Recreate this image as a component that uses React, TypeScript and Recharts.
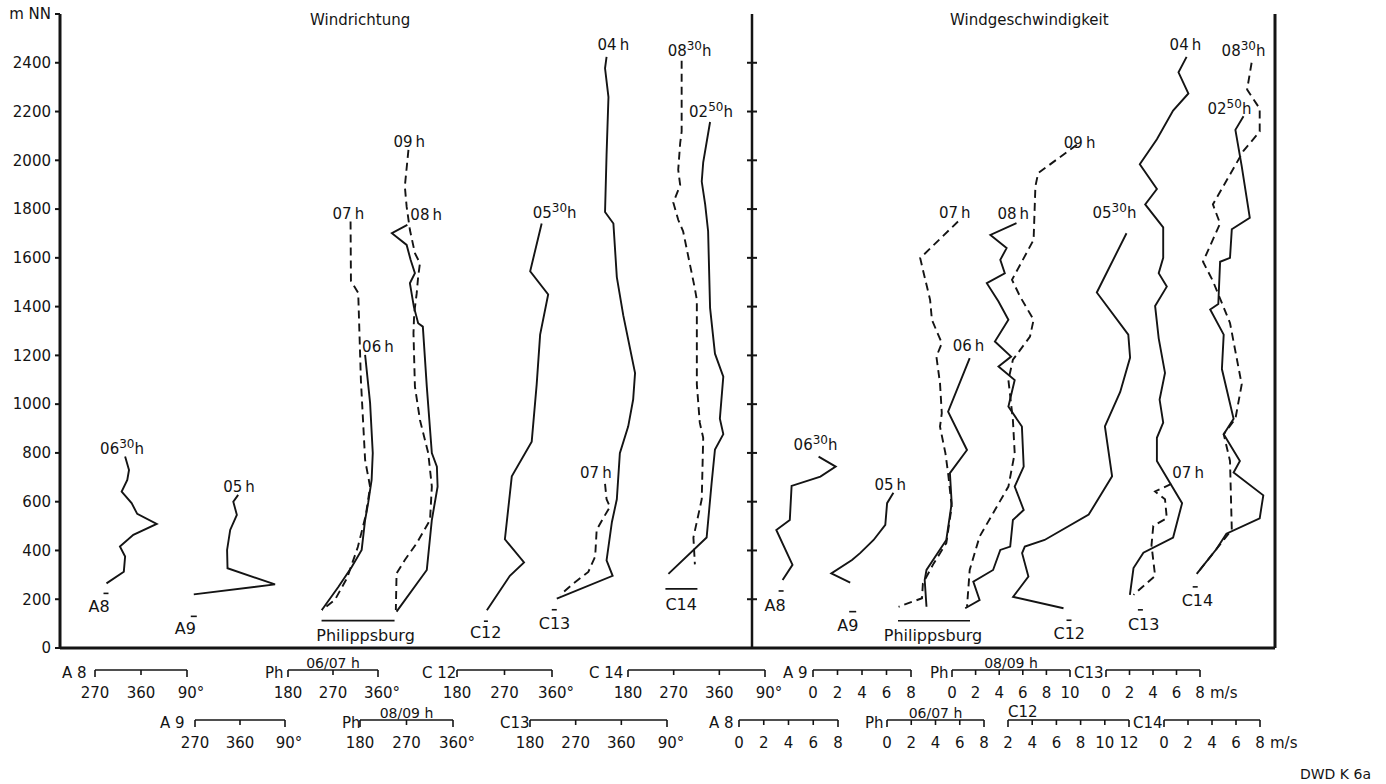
import React from 'react';
import { LineChart, Line, XAxis, YAxis, ReferenceLine } from 'recharts';

// heights in m NN, every profile runs from its top point down to the ground
const ALT_MAX = 2600;
const ALT_TICKS = [0, 200, 400, 600, 800, 1000, 1200, 1400, 1600, 1800, 2000, 2200, 2400, 2600];

type Pt = [number, number]; // [value, height]

// --- Windrichtung (degrees, 360+ means past north) ---
const DIR_A8_0630: Pt[] = [[328, 785], [337, 730], [333, 689], [320, 641], [343, 594], [356, 550], [401, 509], [347, 464], [316, 416], [328, 375], [325, 313], [285, 265]];
const DIR_A9_05: Pt[] = [[356, 628], [345, 600], [353, 546], [338, 484], [331, 402], [332, 327], [439, 261], [256, 220]];
const DIR_PH_07: Pt[] = [[312, 1749], [313, 1506], [332, 1456], [339, 1099], [350, 771], [363, 661], [352, 546], [331, 414], [303, 287], [271, 197], [237, 156]];
const DIR_PH_06: Pt[] = [[350, 1202], [363, 1005], [370, 800], [367, 689], [358, 595], [350, 525], [341, 402], [315, 332], [280, 250], [237, 156]];
const DIR_PH_09: Pt[] = [[259, 2043], [249, 1893], [254, 1810], [263, 1715], [277, 1619], [291, 1578], [286, 1523], [282, 1455], [275, 1373], [273, 1291], [277, 1072], [291, 935], [314, 799], [324, 662], [319, 525], [282, 430], [249, 361], [226, 306], [224, 156]];
const DIR_PH_08: Pt[] = [[256, 1735], [213, 1701], [254, 1653], [265, 1592], [277, 1537], [263, 1496], [274, 1400], [286, 1332], [299, 1318], [310, 1072], [324, 799], [338, 744], [340, 662], [324, 525], [310, 320], [226, 149]];
const DIR_C12_0530: Pt[] = [[341, 1741], [311, 1545], [358, 1450], [337, 1285], [328, 1081], [315, 846], [263, 704], [245, 446], [295, 351], [258, 296], [198, 155]];
const DIR_C13_04: Pt[] = [[342, 2424], [338, 2377], [347, 2259], [342, 2023], [338, 1788], [360, 1741], [369, 1521], [386, 1364], [417, 1128], [412, 1019], [399, 909], [377, 799], [369, 610], [356, 516], [342, 359], [358, 296], [211, 202]];
const DIR_C13_07: Pt[] = [[338, 673], [342, 610], [351, 579], [333, 532], [316, 485], [312, 375], [294, 312], [255, 265], [220, 218]];
const DIR_C14_0830: Pt[] = [[265, 2408], [265, 2118], [262, 2071], [258, 1961], [262, 1898], [248, 1827], [258, 1756], [268, 1709], [292, 1474], [296, 1427], [296, 1081], [302, 924], [309, 862], [306, 610], [289, 453], [292, 343]];
const DIR_C14_0250: Pt[] = [[323, 2157], [309, 1992], [306, 1913], [313, 1819], [319, 1709], [323, 1395], [333, 1207], [350, 1113], [343, 940], [350, 877], [333, 814], [326, 673], [316, 453], [238, 304]];

// --- Windgeschwindigkeit (m/s) ---
const SPD_A8_0630: Pt[] = [[5.4, 785], [7.3, 744], [5.6, 703], [2.4, 665], [2.2, 525], [0.7, 484], [2.5, 341], [1.4, 279]];
const SPD_A9_05: Pt[] = [[7.6, 637], [6.9, 594], [6.7, 505], [5.4, 443], [3.9, 389], [3.0, 361], [0.7, 306], [2.8, 268]];
const SPD_PH_07: Pt[] = [[7.0, 1749], [2.8, 1599], [3.1, 1551], [3.9, 1428], [4.1, 1346], [5.2, 1250], [4.6, 1195], [5.0, 1086], [5.2, 963], [5.0, 908], [5.6, 799], [5.9, 717], [6.3, 580], [5.7, 430], [4.3, 347], [3.1, 265], [3.0, 204], [0.4, 169]];
const SPD_PH_06: Pt[] = [[8.3, 1189], [5.9, 969], [8.0, 812], [6.1, 717], [6.3, 594], [5.7, 443], [3.5, 320], [3.3, 279], [3.5, 169]];
const SPD_PH_08: Pt[] = [[6.5, 1742], [3.6, 1694], [5.4, 1640], [4.7, 1592], [5.2, 1537], [3.2, 1496], [4.5, 1421], [5.6, 1346], [4.1, 1257], [5.9, 1195], [4.5, 1154], [6.3, 1099], [5.6, 990], [7.1, 908], [7.3, 744], [6.3, 662], [7.3, 566], [6.1, 525], [5.8, 416], [4.7, 402], [3.9, 320], [1.7, 272], [2.4, 197], [0.8, 163]];
const SPD_PH_09: Pt[] = [[13.2, 2064], [8.9, 1947], [8.6, 1893], [8.4, 1674], [7.6, 1619], [6.0, 1510], [6.9, 1441], [8.4, 1346], [8.0, 1277], [6.1, 1182], [5.6, 1099], [6.1, 935], [6.3, 799], [5.6, 662], [3.9, 553], [2.4, 457], [1.3, 320], [1.0, 169]];
const SPD_C12_0530: Pt[] = [[13.5, 1701], [10.2, 1458], [13.7, 1285], [13.9, 1191], [12.8, 1050], [11.1, 909], [11.9, 704], [9.3, 547], [4.4, 443], [2.2, 416], [1.9, 389], [2.6, 293], [0.9, 210], [6.5, 163]];
const SPD_C13_04: Pt[] = [[7.4, 2424], [6.5, 2361], [7.6, 2274], [5.9, 2204], [4.1, 2086], [2.2, 1984], [4.1, 1882], [2.8, 1819], [4.8, 1725], [4.8, 1600], [4.3, 1537], [5.2, 1482], [3.9, 1403], [4.3, 1270], [5.0, 1128], [4.4, 1019], [4.8, 924], [4.1, 862], [4.1, 767], [6.9, 594], [5.9, 453], [2.6, 391], [1.5, 328], [1.1, 218]];
const SPD_C13_07: Pt[] = [[5.7, 673], [3.9, 642], [5.0, 610], [5.2, 532], [3.7, 501], [3.5, 422], [3.9, 296], [1.5, 218]];
const SPD_C14_0830: Pt[] = [[7.4, 2400], [6.9, 2290], [8.3, 2212], [8.3, 2118], [6.5, 2039], [3.1, 1819], [3.9, 1741], [2.0, 1584], [3.1, 1505], [5.0, 1333], [6.3, 1081], [5.6, 940], [4.3, 877], [5.0, 767], [5.2, 485], [1.3, 304]];
const SPD_C14_0250: Pt[] = [[6.5, 2181], [5.6, 2125], [6.3, 1976], [7.2, 1764], [5.2, 1717], [5.0, 1600], [3.9, 1584], [3.7, 1411], [2.8, 1388], [4.3, 1285], [4.1, 1144], [5.4, 940], [4.3, 877], [6.1, 767], [5.4, 720], [8.7, 626], [8.3, 532], [4.6, 469], [3.5, 406], [1.3, 304]];

// scale bar tick labels under the chart
const DIR_TICKS_A = ['270', '360', '90°'];
const DIR_TICKS_PH = ['180', '270', '360°'];
const DIR_TICKS_C3 = ['180', '270', '360°'];
const DIR_TICKS_C4 = ['180', '270', '360', '90°'];
const SPD_TICKS_8 = ['0', '2', '4', '6', '8'];
const SPD_TICKS_10 = ['0', '2', '4', '6', '8', '10'];
const SPD_TICKS_12 = ['2', '4', '6', '8', '10', '12'];

// ---------- layout ----------
const W = 1386;
const H = 784;
const PLOT = { left: 60, right: 1275, top: 14, bottom: 648 };
const DIVIDER_X = 752;
const FONT = '"DejaVu Sans", "Liberation Sans", sans-serif';
const INK = '#141414';

// every profile gets its own horizontal scale: value `at` sits at pixel `px`, k px per unit
const AXES: Record<string, { at: number; px: number; k: number }> = {
  dA8: { at: 270, px: 100, k: 0.433 },
  dA9: { at: 270, px: 200, k: 0.444 },
  dPh67: { at: 180, px: 300, k: 0.383 },
  dPh89: { at: 180, px: 380, k: 0.36 },
  dC12: { at: 180, px: 480, k: 0.383 },
  dC13: { at: 180, px: 545, k: 0.38 },
  dC14: { at: 180, px: 640, k: 0.49 },
  sA8: { at: 0, px: 770, k: 9 },
  sA9: { at: 0, px: 825, k: 9 },
  sPh67: { at: 0, px: 895, k: 9 },
  sPh89: { at: 0, px: 958, k: 9 },
  sC12: { at: 0, px: 1005, k: 9 },
  sC13: { at: 0, px: 1120, k: 9 },
  sC14: { at: 0, px: 1185, k: 9 },
};
const domainOf = (a: { at: number; px: number; k: number }) => [
  a.at - (a.px - PLOT.left) / a.k,
  a.at + (PLOT.right - a.px) / a.k,
];

type Series = { id: string; axis: string; data: Pt[]; dashed?: boolean; hour: [string, string?]; station?: string };

const SERIES: Series[] = [
  { id: 'dA8', axis: 'dA8', data: DIR_A8_0630, hour: ['06', '30'], station: 'A8' },
  { id: 'dA9', axis: 'dA9', data: DIR_A9_05, hour: ['05'], station: 'A9' },
  { id: 'dPh07', axis: 'dPh67', data: DIR_PH_07, dashed: true, hour: ['07'] },
  { id: 'dPh06', axis: 'dPh67', data: DIR_PH_06, hour: ['06'] },
  { id: 'dPh09', axis: 'dPh89', data: DIR_PH_09, dashed: true, hour: ['09'] },
  { id: 'dPh08', axis: 'dPh89', data: DIR_PH_08, hour: ['08'], station: 'Philippsburg' },
  { id: 'dC12', axis: 'dC12', data: DIR_C12_0530, hour: ['05', '30'], station: 'C12' },
  { id: 'dC13a', axis: 'dC13', data: DIR_C13_04, hour: ['04'], station: 'C13' },
  { id: 'dC13b', axis: 'dC13', data: DIR_C13_07, dashed: true, hour: ['07'] },
  { id: 'dC14a', axis: 'dC14', data: DIR_C14_0830, dashed: true, hour: ['08', '30'] },
  { id: 'dC14b', axis: 'dC14', data: DIR_C14_0250, hour: ['02', '50'], station: 'C14' },
  { id: 'sA8', axis: 'sA8', data: SPD_A8_0630, hour: ['06', '30'], station: 'A8' },
  { id: 'sA9', axis: 'sA9', data: SPD_A9_05, hour: ['05'], station: 'A9' },
  { id: 'sPh07', axis: 'sPh67', data: SPD_PH_07, dashed: true, hour: ['07'] },
  { id: 'sPh06', axis: 'sPh67', data: SPD_PH_06, hour: ['06'] },
  { id: 'sPh08', axis: 'sPh89', data: SPD_PH_08, hour: ['08'] },
  { id: 'sPh09', axis: 'sPh89', data: SPD_PH_09, dashed: true, hour: ['09'], station: 'Philippsburg' },
  { id: 'sC12', axis: 'sC12', data: SPD_C12_0530, hour: ['05', '30'], station: 'C12' },
  { id: 'sC13a', axis: 'sC13', data: SPD_C13_04, hour: ['04'], station: 'C13' },
  { id: 'sC13b', axis: 'sC13', data: SPD_C13_07, dashed: true, hour: ['07'] },
  { id: 'sC14a', axis: 'sC14', data: SPD_C14_0830, dashed: true, hour: ['08', '30'] },
  { id: 'sC14b', axis: 'sC14', data: SPD_C14_0250, hour: ['02', '50'], station: 'C14' },
];

// label offsets: hour label from the top point, station label from the bottom point
// ob = overbar [x0, x1, dy] relative to the station text
type LabelPos = { hx: number; hy: number; sx?: number; sy?: number; mid?: boolean; ob?: [number, number, number] };
const LABEL_POS: Record<string, LabelPos> = {
  dA8: { hx: -25, hy: -3, sx: -18, sy: 29, ob: [15, 20, -19] },
  dA9: { hx: -15, hy: -3, sx: -19, sy: 40, ob: [16, 22, -18] },
  dPh07: { hx: -18, hy: -3 },
  dPh06: { hx: -3, hy: -3 },
  dPh09: { hx: -15, hy: -3 },
  dPh08: { hx: 3, hy: -5, sx: -31, sy: 29, mid: true, ob: [-44, 29, -20] },
  dC12: { hx: -9, hy: -5, sx: -17, sy: 28, ob: [14, 18, -17] },
  dC13a: { hx: -9, hy: -7, sx: -18, sy: 30, ob: [13, 18, -19] },
  dC13b: { hx: -25, hy: -6 },
  dC14a: { hx: -14, hy: -5 },
  dC14b: { hx: -21, hy: -5, sx: -3, sy: 36, ob: [0, 32, -21] },
  sA8: { hx: -25, hy: -7, sx: -18, sy: 31, ob: [14, 19, -20] },
  sA9: { hx: -19, hy: -3, sx: -13, sy: 48, ob: [12, 19, -19] },
  sPh07: { hx: -19, hy: -4 },
  sPh06: { hx: -17, hy: -7 },
  sPh08: { hx: -19, hy: -4 },
  sPh09: { hx: -13, hy: 3, sx: -34, sy: 34, mid: true, ob: [-35, 37, -20] },
  sC12: { hx: -34, hy: -15, sx: -10, sy: 31, ob: [13, 18, -19] },
  sC13a: { hx: -17, hy: -7, sx: -2, sy: 35, ob: [10, 15, -20] },
  sC13b: { hx: 1, hy: -6 },
  sC14a: { hx: -30, hy: -7 },
  sC14b: { hx: -36, hy: -2, sx: -15, sy: 32, ob: [11, 16, -19] },
};

// bottom scale bars
const ROW_Y = [670, 720];
type Bar = { name: string; ticks: string[]; row: number; nameX: number; x0: number; x1: number; caption?: string; unit?: string; nameAbove?: boolean };
const SCALE_BARS: Bar[] = [
  { name: 'A 8', ticks: DIR_TICKS_A, row: 0, nameX: 62, x0: 95, x1: 187 },
  { name: 'Ph', ticks: DIR_TICKS_PH, row: 0, nameX: 265, x0: 288, x1: 378, caption: '06/07 h' },
  { name: 'C 12', ticks: DIR_TICKS_C3, row: 0, nameX: 422, x0: 457, x1: 552 },
  { name: 'C 14', ticks: DIR_TICKS_C4, row: 0, nameX: 589, x0: 628, x1: 765 },
  { name: 'A 9', ticks: SPD_TICKS_8, row: 0, nameX: 783, x0: 813, x1: 911 },
  { name: 'Ph', ticks: SPD_TICKS_10, row: 0, nameX: 930, x0: 952, x1: 1070, caption: '08/09 h' },
  { name: 'C13', ticks: SPD_TICKS_8, row: 0, nameX: 1074, x0: 1106, x1: 1200, unit: 'm/s' },
  { name: 'A 9', ticks: DIR_TICKS_A, row: 1, nameX: 160, x0: 195, x1: 285 },
  { name: 'Ph', ticks: DIR_TICKS_PH, row: 1, nameX: 342, x0: 360, x1: 453, caption: '08/09 h' },
  { name: 'C13', ticks: DIR_TICKS_C4, row: 1, nameX: 500, x0: 530, x1: 667 },
  { name: 'A 8', ticks: SPD_TICKS_8, row: 1, nameX: 709, x0: 739, x1: 838 },
  { name: 'Ph', ticks: SPD_TICKS_8, row: 1, nameX: 865, x0: 887, x1: 984, caption: '06/07 h' },
  { name: 'C12', ticks: SPD_TICKS_12, row: 1, nameX: 1008, x0: 1008, x1: 1129, nameAbove: true },
  { name: 'C14', ticks: SPD_TICKS_8, row: 1, nameX: 1133, x0: 1164, x1: 1260, unit: 'm/s' },
];

const yOf = (h: number) => PLOT.bottom - (h / ALT_MAX) * (PLOT.bottom - PLOT.top);
const fmtAlt = (v: number) => (v === ALT_MAX ? 'm NN' : String(v));

function HourLabel({ x, y, hour }: { x: number; y: number; hour: [string, string?] }) {
  return (
    <text x={x} y={y} fontSize={15} fill={INK} fontFamily={FONT}>
      {hour[0]}
      {hour[1] ? (
        <tspan dy={-6} fontSize={12}>{hour[1]}</tspan>
      ) : null}
      <tspan dy={hour[1] ? 6 : 0} dx={hour[1] ? 0 : 3}>h</tspan>
    </text>
  );
}

function StationLabel({ x, y, text, pos }: { x: number; y: number; text: string; pos: LabelPos }) {
  const tx = x + (pos.sx || 0);
  const ty = y + (pos.sy || 0);
  const ob = pos.ob;
  return (
    <g>
      <text x={tx} y={ty} fontSize={16} fill={INK} fontFamily={FONT} textAnchor={pos.mid ? 'middle' : 'start'}>
        {text}
      </text>
      {ob ? <line x1={tx + ob[0]} x2={tx + ob[1]} y1={ty + ob[2]} y2={ty + ob[2]} stroke={INK} strokeWidth={1.6} /> : null}
    </g>
  );
}

const marks = (s: Series) => (p: any) => {
  const key = `${s.id}-m-${p.index}`;
  const pos = LABEL_POS[s.id];
  if (p.index === 0) return <HourLabel key={key} x={p.cx + pos.hx} y={p.cy + pos.hy} hour={s.hour} />;
  if (p.index === s.data.length - 1 && s.station)
    return <StationLabel key={key} x={p.cx} y={p.cy} text={s.station} pos={pos} />;
  return <g key={key} />;
};

function RightTick(p: any) {
  return (
    <text x={PLOT.right + 55} y={p.y} dy="0.36em" textAnchor="end" fontSize={15} fill={INK} fontFamily={FONT}>
      {fmtAlt(p.payload.value)}
    </text>
  );
}

function ScaleBar({ s }: { s: Bar }) {
  const y = ROW_Y[s.row];
  const n = s.ticks.length;
  const xs = s.ticks.map((_, i) => s.x0 + ((s.x1 - s.x0) * i) / (n - 1));
  return (
    <g>
      <text x={s.nameX} y={s.nameAbove ? y - 3 : y + 8} fontSize={15} fill={INK}>{s.name}</text>
      <line x1={s.x0} x2={s.x1} y1={y} y2={y} stroke={INK} strokeWidth={1.6} />
      {xs.map((x, i) => (
        <line key={i} x1={x} x2={x} y1={y} y2={y + (i === 0 || i === n - 1 ? 7 : 5)} stroke={INK} strokeWidth={1.6} />
      ))}
      {s.ticks.map((t, i) => (
        <text key={t + i} x={xs[i] + (t.endsWith('°') ? 4 : 0)} y={y + 28} textAnchor="middle" fontSize={15} fill={INK}>
          {t}
        </text>
      ))}
      {s.caption ? (
        <text x={(s.x0 + s.x1) / 2} y={y - 2} textAnchor="middle" fontSize={14} fill={INK}>{s.caption}</text>
      ) : null}
      {s.unit ? (
        <text x={s.x1 + 10} y={y + 28} fontSize={15} fill={INK}>{s.unit}</text>
      ) : null}
    </g>
  );
}

export default function App() {
  const axisIds = Object.keys(AXES);
  return (
    <div style={{ position: 'absolute', left: 0, top: 0, width: W, height: H, background: '#fff', fontFamily: FONT }}>
      <LineChart width={W} height={H} margin={{ top: PLOT.top, right: 0, bottom: H - PLOT.bottom, left: 0 }}>
        {axisIds.map((id) => (
          <XAxis key={id} xAxisId={id} type="number" dataKey="v" domain={domainOf(AXES[id])} allowDataOverflow hide />
        ))}
        <YAxis
          yAxisId="l"
          type="number"
          dataKey="h"
          domain={[0, ALT_MAX]}
          ticks={ALT_TICKS}
          interval={0}
          width={PLOT.left}
          tickSize={5}
          tickMargin={4}
          tickFormatter={fmtAlt}
          tick={{ fill: INK, fontSize: 15 }}
          axisLine={{ stroke: INK, strokeWidth: 3 }}
          tickLine={{ stroke: INK, strokeWidth: 2 }}
        />
        <YAxis
          yAxisId="r"
          orientation="right"
          type="number"
          domain={[0, ALT_MAX]}
          ticks={ALT_TICKS}
          interval={0}
          width={W - PLOT.right}
          tickSize={6}
          tick={RightTick}
          axisLine={{ stroke: INK, strokeWidth: 3 }}
          tickLine={{ stroke: INK, strokeWidth: 2 }}
        />
        <ReferenceLine y={0} yAxisId="l" xAxisId={axisIds[0]} stroke={INK} strokeWidth={3} />
        {SERIES.map((s) => (
          <Line
            key={s.id}
            data={s.data.map(([v, h]) => ({ v, h }))}
            xAxisId={s.axis}
            yAxisId="l"
            dataKey="h"
            type="linear"
            stroke={INK}
            strokeWidth={1.9}
            strokeDasharray={s.dashed ? '8 5' : undefined}
            dot={marks(s)}
            activeDot={false}
            isAnimationActive={false}
          />
        ))}
      </LineChart>
      <svg width={W} height={H} style={{ position: 'absolute', left: 0, top: 0, pointerEvents: 'none' }} fontFamily={FONT}>
        <text x={310} y={25} fontSize={15} fill={INK}>Windrichtung</text>
        <text x={950} y={25} fontSize={15} fill={INK}>Windgeschwindigkeit</text>
        <line x1={DIVIDER_X} x2={DIVIDER_X} y1={PLOT.top} y2={PLOT.bottom} stroke={INK} strokeWidth={2.5} />
        {ALT_TICKS.filter((t) => t > 0 && t < ALT_MAX).map((t) => (
          <line key={t} x1={DIVIDER_X - 5} x2={DIVIDER_X + 5} y1={yOf(t)} y2={yOf(t)} stroke={INK} strokeWidth={2} />
        ))}
        {SCALE_BARS.map((s, i) => (
          <ScaleBar key={i} s={s} />
        ))}
        <text x={1300} y={779} fontSize={14} fill={INK}>DWD  K 6a</text>
      </svg>
    </div>
  );
}
